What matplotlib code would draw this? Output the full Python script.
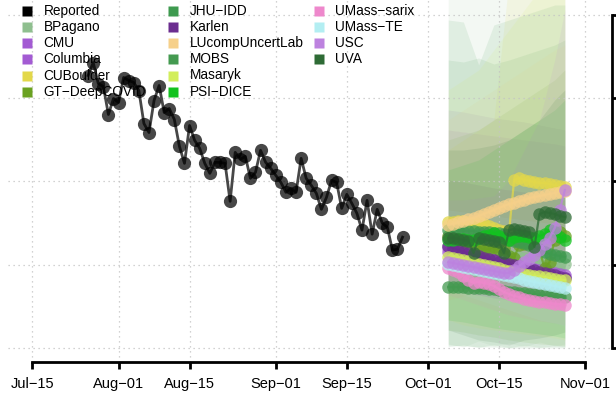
import datetime as dt
import matplotlib
matplotlib.use("Agg")
import matplotlib.pyplot as plt
import matplotlib.dates as mdates

plt.rcParams.update({
    'font.family': ['Liberation Sans', 'DejaVu Sans'],
    'font.size': 10,
})

# ---- observed series (daily, starting Jul 26) ----
obs_start = dt.date(2020, 7, 26)
reported = [2635, 2713, 2587, 2569, 2401, 2497, 2473, 2623, 2605, 2593,
            2545, 2347, 2293, 2485, 2575, 2413, 2437, 2371, 2210, 2108,
            2335, 2246, 2198, 2108, 2048, 2114, 2114, 2108, 1880, 2174,
            2132, 2150, 2018, 2054, 2186, 2114, 2078, 2036, 1994, 1934,
            1958, 1934, 2138, 2018, 1976, 1928, 1832, 1904, 2006, 1994,
            1838, 1922, 1868, 1808, 1707, 1886, 1683, 1832, 1749, 1725,
            1587, 1593, 1665]

# ---- forecast medians (daily, Oct 5 - Oct 28) ----
fc_start = dt.date(2020, 10, 5)
bpagano = [1612, 1606, 1600, 1600, 1594, 1588, 1582, 1576, 1576, 1570, 1564, 1558,
           1552, 1552, 1546, 1540, 1534, 1528, 1528, 1522, 1516, 1510, 1510, 1504]
cmu = [1576, 1570, 1564, 1558, 1552, 1546, 1540, 1534, 1528, 1522, 1516, 1510,
       1504, 1492, 1486, 1480, 1474, 1468, 1456, 1450, 1444, 1432, 1426, 1420]
columbia = [1600, 1588, 1582, 1576, 1564, 1558, 1546, 1540, 1534, 1528, 1516, 1510,
            1504, 1498, 1492, 1486, 1480, 1474, 1468, 1462, 1456, 1450, 1444, 1438]
cuboulder = [1756, 1756, 1762, 1762, 1756, 1750, 1756, 1744, 1732, 1720, 1708, 1702,
             1696, 2008, 2020, 2008, 2002, 1996, 1990, 1990, 1984, 1978, 1972, 1966]
gt_deepcovid = [1672, 1660, 1648, 1636, 1630, 1624, 1612, 1588, 1594, 1606, 1588, 1600,
                1552, 1540, 1618, 1624, 1630, 1612, 1588, 1480, 1516, 1648, 1696, 1672]
jhu_idd = [1708, 1708, 1708, 1702, 1702, 1702, 1696, 1696, 1696, 1690, 1690, 1684,
           1648, 1642, 1636, 1630, 1618, 1606, 1594, 1576, 1564, 1558, 1552, 1546]
karlen = [1612, 1600, 1588, 1576, 1570, 1558, 1552, 1540, 1534, 1528, 1516, 1510,
          1504, 1498, 1492, 1480, 1474, 1468, 1456, 1450, 1444, 1438, 1426, 1420]
lucomp = [1738, 1744, 1756, 1762, 1774, 1780, 1792, 1804, 1816, 1828, 1840, 1852,
          1864, 1870, 1882, 1888, 1900, 1906, 1912, 1918, 1924, 1930, 1936, 1942]
mobs = [1366, 1366, 1366, 1366, 1360, 1360, 1360, 1360, 1354, 1354, 1348, 1342,
        1336, 1336, 1330, 1330, 1324, 1324, 1318, 1318, 1312, 1312, 1306, 1306]
masaryk = [1546, 1540, 1534, 1528, 1522, 1510, 1504, 1498, 1492, 1486, 1480, 1468,
           1462, 1456, 1450, 1444, 1438, 1432, 1432, 1426, 1420, 1414, 1408, 1408]
psi_dice = [1648, 1648, 1654, 1654, 1648, 1648, 1660, 1672, 1678, 1690, 1672, 1660,
            1648, 1666, 1672, 1672, 1666, 1660, 1672, 1684, 1708, 1696, 1666, 1648]
umass_sarix = [1480, 1468, 1456, 1432, 1408, 1390, 1396, 1390, 1384, 1372, 1354, 1336,
               1324, 1312, 1306, 1294, 1288, 1282, 1276, 1276, 1270, 1264, 1264, 1258]
umass_te = [1504, 1498, 1492, 1486, 1480, 1474, 1468, 1462, 1456, 1450, 1444, 1438,
            1432, 1426, 1420, 1408, 1402, 1396, 1390, 1384, 1378, 1372, 1366, 1360]
usc = [1516, 1510, 1504, 1498, 1492, 1486, 1480, 1474, 1468, 1462, 1456, 1450,
       1450, 1468, 1492, 1516, 1534, 1558, 1588, 1624, 1660, 1720, 1828, 1948]
uva = [1660, 1660, 1654, 1648, 1642, 1570, 1660, 1654, 1648, 1642, 1636, 1570,
       1708, 1714, 1708, 1702, 1696, 1606, 1804, 1816, 1810, 1804, 1792, 1786]

# ---- 95% intervals, every third day ----
band_days = [0, 3, 6, 9, 12, 15, 18, 21, 23]
bpagano_lo = [1024, 1006, 1042, 1012, 1030, 1006, 1036, 1012, 1024]
bpagano_hi = [3268, 3268, 3268, 3268, 3268, 3268, 3268, 3268, 3268]
cmu_lo = [1348, 1330, 1318, 1300, 1288, 1276, 1264, 1252, 1240]
cmu_hi = [2428, 2416, 2398, 2380, 2368, 2356, 2338, 2320, 2308]
columbia_lo = [1378, 1360, 1342, 1324, 1306, 1288, 1276, 1264, 1252]
columbia_hi = [2308, 2296, 2284, 2272, 2260, 2248, 2236, 2224, 2212]
cuboulder_lo = [1408, 1378, 1348, 1318, 1648, 1618, 1588, 1558, 1540]
cuboulder_hi = [2188, 2248, 2308, 2368, 3208, 3268, 3328, 3328, 3328]
gt_lo = [1108, 1096, 1078, 1066, 1048, 1036, 1024, 1018, 1012]
gt_hi = [2248, 2278, 2308, 2368, 2428, 2488, 2548, 2608, 2668]
jhu_lo = [1008, 1018, 1004, 1020, 1002, 1016, 1004, 1012, 1006]
jhu_hi = [2968, 2956, 2698, 2938, 2968, 2998, 3028, 3058, 3058]
karlen_lo = [1378, 1360, 1342, 1324, 1306, 1288, 1270, 1252, 1240]
karlen_hi = [2008, 1996, 1978, 1960, 1948, 1936, 1918, 1900, 1888]
lucomp_lo = [1288, 1312, 1336, 1360, 1384, 1408, 1432, 1456, 1468]
lucomp_hi = [2368, 2428, 2488, 2548, 2608, 2668, 2728, 2788, 2818]
mobs_lo = [1018, 1012, 1006, 1006, 1000, 1000, 1000, 1000, 1000]
mobs_hi = [2728, 2716, 2740, 2704, 2728, 2758, 2788, 2818, 2848]
masaryk_lo = [1168, 1138, 1120, 1108, 1096, 1084, 1072, 1060, 1048]
masaryk_hi = [2548, 2608, 2668, 2788, 2908, 3028, 3148, 3268, 3328]
psi_lo = [1168, 1156, 1138, 1120, 1108, 1096, 1084, 1072, 1060]
psi_hi = [2068, 2098, 2128, 2188, 2248, 2308, 2368, 2428, 2488]
sarix_lo = [1318, 1290, 1258, 1228, 1198, 1180, 1162, 1150, 1138]
sarix_hi = [1768, 1738, 1708, 1696, 1678, 1660, 1648, 1636, 1624]
te_lo = [1348, 1318, 1288, 1258, 1228, 1198, 1168, 1150, 1132]
te_hi = [1828, 1816, 1804, 1792, 1780, 1768, 1756, 1744, 1732]
usc_lo = [1348, 1330, 1318, 1306, 1300, 1306, 1318, 1348, 1408]
usc_hi = [1888, 1888, 1900, 1912, 2008, 2188, 2368, 2728, 3028]
uva_lo = [1108, 1078, 1048, 1036, 1018, 1048, 1060, 1078, 1096]
uva_hi = [2188, 2188, 2200, 2218, 2248, 2308, 2368, 2488, 2548]

model_names = ["BPagano", "CMU", "Columbia", "CUBoulder", "GT\u2212DeepCOVID",
               "JHU\u2212IDD", "Karlen", "LUcompUncertLab", "MOBS", "Masaryk",
               "PSI\u2212DICE", "UMass\u2212sarix", "UMass\u2212TE", "USC", "UVA"]
model_colors = ["#8FBF8F", "#A35BD3", "#A35BD3", "#E3D84A", "#6AA121",
                "#3E9A4F", "#6B2D8F", "#F6D08A", "#449A50", "#D2EE5C",
                "#12C21F", "#EE88CC", "#B3EEF2", "#BD82DF", "#2E6B35"]
model_medians = [bpagano, cmu, columbia, cuboulder, gt_deepcovid, jhu_idd, karlen,
                 lucomp, mobs, masaryk, psi_dice, umass_sarix, umass_te, usc, uva]
model_lo = [bpagano_lo, cmu_lo, columbia_lo, cuboulder_lo, gt_lo, jhu_lo, karlen_lo,
            lucomp_lo, mobs_lo, masaryk_lo, psi_lo, sarix_lo, te_lo, usc_lo, uva_lo]
model_hi = [bpagano_hi, cmu_hi, columbia_hi, cuboulder_hi, gt_hi, jhu_hi, karlen_hi,
            lucomp_hi, mobs_hi, masaryk_hi, psi_hi, sarix_hi, te_hi, usc_hi, uva_hi]

x_ticks = [dt.date(2020, 7, 15), dt.date(2020, 8, 1), dt.date(2020, 8, 15),
           dt.date(2020, 9, 1), dt.date(2020, 9, 15), dt.date(2020, 10, 1),
           dt.date(2020, 10, 15), dt.date(2020, 11, 1)]
x_labels = ["Jul\u221215", "Aug\u221201", "Aug\u221215", "Sep\u221201",
            "Sep\u221215", "Oct\u221201", "Oct\u221215", "Nov\u221201"]
y_ticks = [1000, 1500, 2000, 2500, 3000]

W, H = 616, 395
fig = plt.figure(figsize=(W / 100, H / 100), dpi=100)
ax = fig.add_axes([8 / W, (H - 362) / H, (612 - 8) / W, 362 / H])

obs_dates = [obs_start + dt.timedelta(days=i) for i in range(len(reported))]
fc_dates = [fc_start + dt.timedelta(days=i) for i in range(len(bpagano))]
band_dates = [fc_start + dt.timedelta(days=d) for d in band_days]

# intervals
for lo, hi, col in zip(model_lo, model_hi, model_colors):
    ax.fill_between(band_dates, lo, hi, color=col, alpha=0.1, lw=0, zorder=1)

# grid
for d in x_ticks:
    ax.axvline(d, color="#C4C4C4", lw=0.9, ls=(0, (1, 3)), zorder=2)
for v in y_ticks:
    ax.axhline(v, color="#C4C4C4", lw=0.9, ls=(0, (1, 3)), zorder=2)

# observed
ax.plot(obs_dates, reported, color="black", alpha=0.72, lw=2, marker="o",
        ms=9.5, mec="none", zorder=5)

# forecasts
for med, col in zip(model_medians, model_colors):
    ax.plot(fc_dates, med, color=col, alpha=0.75, lw=1.6, marker="o",
            ms=9, mec="none", zorder=4)

ax.set_xlim(mdates.date2num(x_ticks[0]) - 4.8, mdates.date2num(x_ticks[-1]) + 5.3)
ax.set_ylim(916, 3088)

ax.set_xticks(x_ticks)
ax.set_xticklabels(x_labels, fontsize=10.5)
ax.tick_params(axis="x", length=5, width=2, pad=6, color="black")
ax.yaxis.tick_right()
ax.set_yticks(y_ticks)
ax.tick_params(axis="y", length=5, width=2, direction="out", labelright=False)
for s in ["top", "left"]:
    ax.spines[s].set_visible(False)
ax.spines["bottom"].set_bounds(mdates.date2num(x_ticks[0]), mdates.date2num(x_ticks[-1]))
ax.spines["bottom"].set_linewidth(2)
ax.spines["right"].set_bounds(y_ticks[0], y_ticks[-1])
ax.spines["right"].set_linewidth(2)
ax.patch.set_visible(False)

# legend, R style, three columns of squares
leg_names = ["Reported"] + model_names
leg_colors = ["black"] + model_colors
for i, (name, col) in enumerate(zip(leg_names, leg_colors)):
    c, r = divmod(i, 6)
    px = 27 + 146 * c
    py = 10.7 + 16.2 * r
    ax.plot([px / W], [1 - py / H], marker="s", ms=7.3, color=col, mec="none",
            transform=fig.transFigure, clip_on=False, zorder=3)
    ax.text((px + 16.5) / W, 1 - py / H, name, transform=fig.transFigure,
            fontsize=9.8, va="center", ha="left", zorder=3)

fig.savefig("out.png", dpi=100)
